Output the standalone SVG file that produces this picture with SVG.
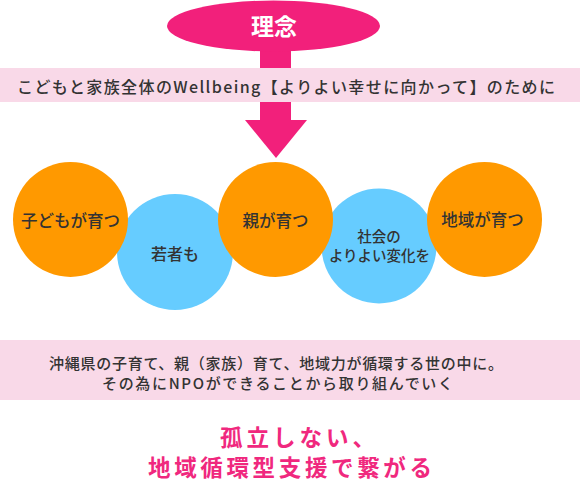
<svg xmlns="http://www.w3.org/2000/svg" width="580" height="481" viewBox="0 0 580 481">
<style>
.t{font-family:"Noto Sans CJK JP","Liberation Sans",sans-serif;fill:#333;font-weight:500;dominant-baseline:central}
.orange{fill:#FF9900}
.blue{fill:#66CCFF}
.band{fill:#F9D9E8}
.pink{fill:#F2207B}
.c{text-anchor:middle}
.big{font-family:"Noto Sans CJK JP","Liberation Sans",sans-serif;fill:#F0287E;font-size:22.5px;font-weight:bold;dominant-baseline:central}
</style>
<rect width="580" height="481" fill="#fff"/>
<g id="connectors">
<rect class="pink" x="260" y="40" width="31" height="81"/>
<polygon class="pink" points="245,120 307,120 276,158"/>
</g>
<g id="rinen">
<ellipse class="pink" cx="273.5" cy="26" rx="106.5" ry="25.5"/>
<text x="274" y="25" text-anchor="middle" style="font-family:'Noto Sans CJK JP','Liberation Sans',sans-serif;font-size:23px;font-weight:bold;fill:#fff;dominant-baseline:central">理念</text>
</g>
<g id="band1">
<rect class="band" x="0" y="68" width="580" height="34"/>
<text class="t" x="17" y="86" font-size="16" textLength="538" lengthAdjust="spacing">こどもと家族全体のWellbeing【よりよい幸せに向かって】のために</text>
</g>
<g id="wakamono">
<circle class="blue" cx="175" cy="252" r="58"/>
<text class="t c" x="175" y="253" font-size="16">若者も</text>
</g>
<g id="shakai">
<circle class="blue" cx="379" cy="246" r="57.5"/>
<text class="t c" x="379" y="235" font-size="14.5">社会の</text>
<text class="t c" x="379.5" y="254" font-size="14.5">よりよい変化を</text>
</g>
<g id="kodomo">
<circle class="orange" cx="70.5" cy="219.5" r="57.5"/>
<text class="t c" x="70.5" y="220" font-size="16.5">子どもが育つ</text>
</g>
<g id="oya">
<circle class="orange" cx="275.5" cy="219.5" r="57.5"/>
<text class="t c" x="275.5" y="220" font-size="16.5">親が育つ</text>
</g>
<g id="chiiki">
<circle class="orange" cx="484.5" cy="219.5" r="57.5"/>
<text class="t c" x="482.5" y="219" font-size="16.5">地域が育つ</text>
</g>
<g id="band2">
<rect class="band" x="0" y="340" width="580" height="60"/>
<text class="t" x="49" y="362" font-size="15" textLength="454" lengthAdjust="spacing">沖縄県の子育て、親（家族）育て、地域力が循環する世の中に。</text>
<text class="t" x="102" y="382" font-size="15" textLength="351" lengthAdjust="spacing">その為にNPOができることから取り組んでいく</text>
</g>
<g id="slogan">
<text class="big" x="220" y="436" textLength="155" lengthAdjust="spacing">孤立しない、</text>
<text class="big" x="148" y="466" textLength="284" lengthAdjust="spacing">地域循環型支援で繋がる</text>
</g>
</svg>
